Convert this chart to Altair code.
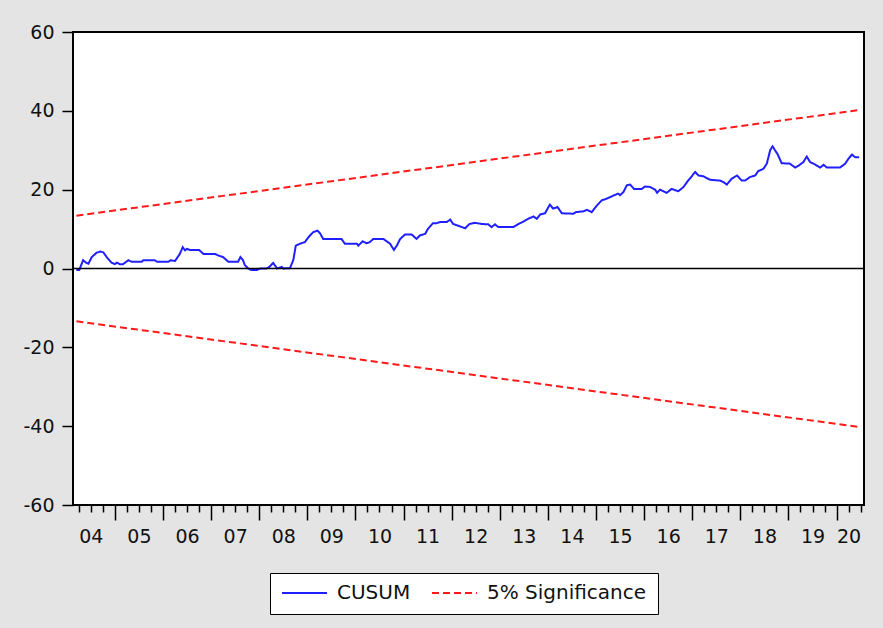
import altair as alt
import pandas as pd

# ---- data (decimal year, CUSUM value) ----
cusum_t = [
    2004.20, 2004.26, 2004.34, 2004.41, 2004.45, 2004.52, 2004.62, 2004.70, 2004.76, 2004.83, 2004.93,
    2005.00, 2005.04, 2005.10, 2005.17, 2005.28, 2005.35, 2005.56, 2005.59, 2005.83, 2005.88,
    2006.11, 2006.16, 2006.25, 2006.35, 2006.41, 2006.46, 2006.50, 2006.56, 2006.75, 2006.84,
    2007.08, 2007.15, 2007.25, 2007.36, 2007.56, 2007.61, 2007.66, 2007.70, 2007.77, 2007.84, 2007.95,
    2008.02, 2008.15, 2008.21, 2008.29, 2008.35, 2008.37, 2008.47, 2008.50, 2008.64, 2008.71, 2008.76, 2008.85, 2008.95,
    2009.02, 2009.12, 2009.21, 2009.26, 2009.33, 2009.71, 2009.78,
    2010.03, 2010.06, 2010.15, 2010.23, 2010.30, 2010.37, 2010.58, 2010.65, 2010.72, 2010.80, 2010.86, 2010.93,
    2011.03, 2011.17, 2011.27, 2011.34, 2011.45, 2011.51, 2011.61, 2011.69, 2011.76, 2011.90, 2011.97,
    2012.03, 2012.17, 2012.28, 2012.37, 2012.48, 2012.62, 2012.76, 2012.83, 2012.90, 2012.97,
    2013.28, 2013.39, 2013.49, 2013.59, 2013.70, 2013.77, 2013.84, 2013.94,
    2014.04, 2014.11, 2014.20, 2014.29, 2014.53, 2014.58, 2014.74, 2014.81, 2014.91,
    2015.02, 2015.12, 2015.22, 2015.36, 2015.46, 2015.50, 2015.57, 2015.64, 2015.71, 2015.79, 2015.95,
    2016.02, 2016.12, 2016.23, 2016.27, 2016.33, 2016.40, 2016.47, 2016.57, 2016.71, 2016.82, 2016.89, 2016.99,
    2017.06, 2017.13, 2017.23, 2017.37, 2017.58, 2017.65, 2017.72, 2017.82, 2017.93,
    2018.03, 2018.10, 2018.20, 2018.31, 2018.37, 2018.48, 2018.55, 2018.62, 2018.67, 2018.72, 2018.77, 2018.86,
    2019.03, 2019.14, 2019.21, 2019.31, 2019.38, 2019.45, 2019.55, 2019.66, 2019.73, 2019.80,
    2020.07, 2020.18, 2020.25, 2020.32, 2020.39, 2020.47,
]
cusum_v = [
    -0.4, -0.4, 2.1, 1.4, 1.2, 2.9, 4.0, 4.3, 4.1, 2.9, 1.5,
    1.1, 1.5, 1.1, 1.1, 2.1, 1.7, 1.7, 2.1, 2.1, 1.7,
    1.7, 2.1, 1.9, 3.7, 5.4, 4.6, 5.0, 4.7, 4.7, 3.7,
    3.7, 3.3, 2.9, 1.7, 1.7, 2.9, 2.2, 0.9, 0.0, -0.4, -0.4,
    0.0, 0.0, 0.4, 1.4, 0.4, 0.0, 0.4, 0.0, 0.1, 2.2, 5.8, 6.3, 6.7,
    7.9, 9.2, 9.6, 9.0, 7.5, 7.5, 6.3,
    6.3, 5.8, 6.9, 6.4, 6.7, 7.5, 7.5, 6.9, 6.3, 4.7, 5.8, 7.5,
    8.6, 8.6, 7.5, 8.4, 8.8, 10.1, 11.5, 11.5, 11.8, 11.8, 12.4,
    11.3, 10.7, 10.2, 11.3, 11.6, 11.3, 11.2, 10.5, 11.2, 10.5,
    10.5, 11.3, 11.9, 12.6, 13.2, 12.6, 13.7, 14.0,
    16.2, 15.2, 15.6, 14.0, 13.9, 14.3, 14.5, 14.9, 14.3,
    16.0, 17.3, 17.7, 18.5, 19.0, 18.6, 19.4, 21.1, 21.3, 20.2, 20.2,
    20.8, 20.7, 20.0, 19.2, 20.0, 19.6, 19.2, 20.2, 19.6, 20.7, 21.9, 23.4,
    24.5, 23.6, 23.4, 22.5, 22.3, 21.9, 21.3, 22.8, 23.6,
    22.3, 22.3, 23.2, 23.6, 24.7, 25.3, 26.6, 30.0, 31.0, 30.0, 29.1, 26.7,
    26.6, 25.6, 26.1, 27.0, 28.4, 27.0, 26.4, 25.6, 26.3, 25.6,
    25.6, 26.6, 27.9, 28.9, 28.2, 28.2,
]
bound_t = [2004.20, 2020.47]
upper_v = [13.4, 40.2]
lower_v = [-13.4, -40.2]
zero_v = [0]

years = list(range(2004, 2021))
y_ticks = [-60, -40, -20, 0, 20, 40, 60]
series_names = ["CUSUM", "5% Significance"]
x_domain = [2004.13, 2020.57]

rows = [{"t": t, "v": v, "series": "CUSUM", "line": "cusum"} for t, v in zip(cusum_t, cusum_v)]
rows += [{"t": t, "v": v, "series": "5% Significance", "line": "upper"} for t, v in zip(bound_t, upper_v)]
rows += [{"t": t, "v": v, "series": "5% Significance", "line": "lower"} for t, v in zip(bound_t, lower_v)]
df = pd.DataFrame(rows)
zero_df = pd.DataFrame({"v": zero_v})

quarter_ticks = [y + q / 4 for y in years for q in range(4) if x_domain[0] <= y + q / 4 <= x_domain[1]]

FONT = "DejaVu Sans"

x_enc = alt.X(
    "t:Q",
    scale=alt.Scale(domain=x_domain, nice=False, zero=False),
    axis=alt.Axis(
        values=quarter_ticks, title=None, grid=False, domain=False,
        tickSize={"condition": {"test": "datum.value % 1 === 0", "value": 15}, "value": 7},
        tickColor="black", tickWidth=1.5,
        labelExpr="datum.value % 1 === 0.5 ? substring(toString(floor(datum.value)), 2) : ''",
        labelOverlap=False, labelFlush=5, labelPadding=15,
        labelFont=FONT, labelFontSize=19, labelColor="#111111",
    ),
)
y_enc = alt.Y(
    "v:Q",
    scale=alt.Scale(domain=[-60, 60], nice=False, zero=False),
    axis=alt.Axis(
        values=y_ticks, title=None, grid=False, domain=False,
        tickSize=11, tickColor="black", tickWidth=1.5, labelPadding=8,
        labelExpr="toString(datum.value)",
        labelFont=FONT, labelFontSize=19, labelColor="#111111",
    ),
)

legend = alt.Legend(
    orient="none", legendX=197, legendY=541, direction="horizontal",
    fillColor="white", strokeColor="black", padding=11, clipHeight=18,
    symbolType="stroke", symbolSize=2025, symbolStrokeWidth=2,
    labelFont=FONT, labelFontSize=20, labelColor="#111111",
    labelOffset=9, columnPadding=20,
)

lines = alt.Chart(df).mark_line(strokeWidth=2).encode(
    x=x_enc,
    y=y_enc,
    color=alt.Color("series:N", scale=alt.Scale(domain=series_names, range=["#1f1fff", "#ff1a1a"]),
                    title=None, legend=legend),
    strokeDash=alt.StrokeDash("series:N", scale=alt.Scale(domain=series_names, range=[[1, 0], [7, 4]]),
                              title=None, legend=legend),
    detail="line:N",
)

zero = alt.Chart(zero_df).mark_rule(color="black", strokeWidth=1.5).encode(y=y_enc)

chart = alt.layer(lines, zero).properties(
    width=791, height=473,
    background="#e4e4e4",
    padding={"left": 73, "top": 32, "right": 19, "bottom": 123},
    autosize=alt.AutoSizeParams(type="none"),
).configure_view(stroke="black", strokeWidth=2, fill="white")

chart.save("out.html", embed_options={"renderer": "svg", "actions": False})
